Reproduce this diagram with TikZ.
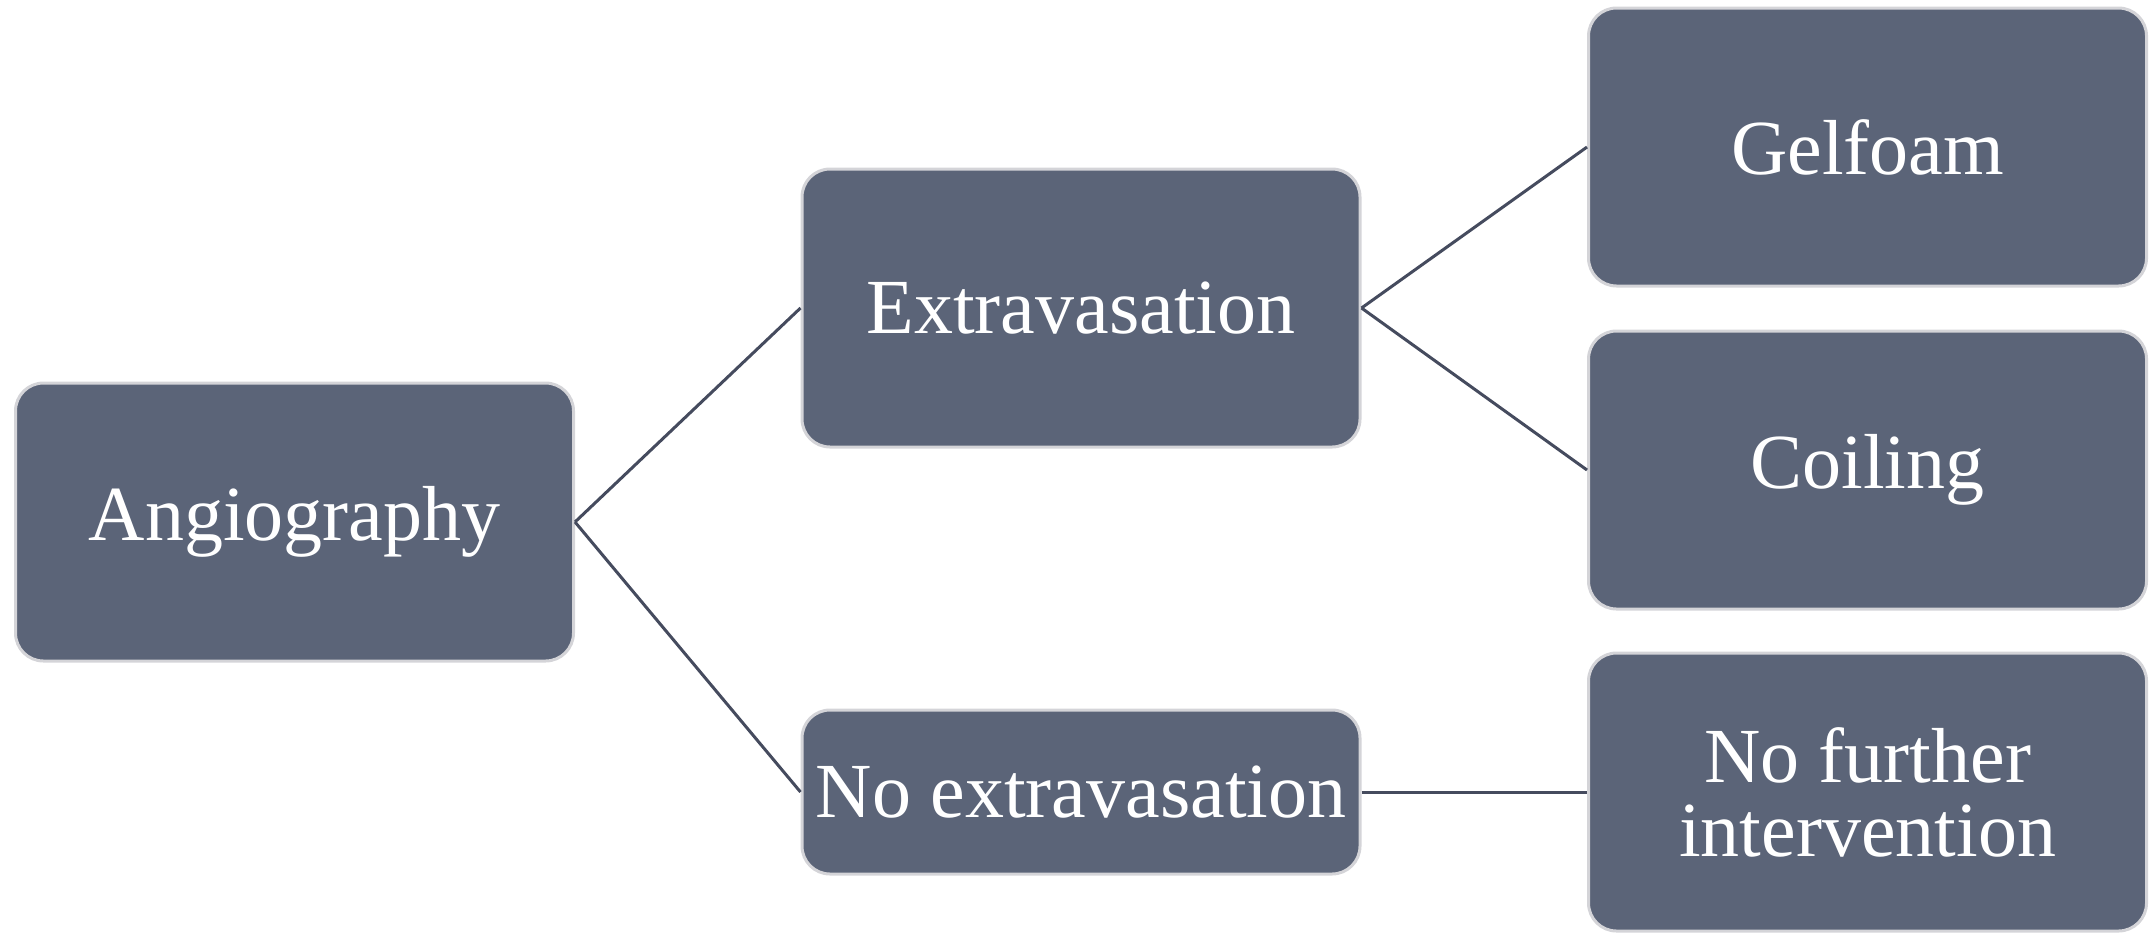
\documentclass[tikz,border=0pt]{standalone}
\usepackage{fontspec}
\setmainfont{Liberation Serif}
\usepackage{tikz}
\usetikzlibrary{positioning}
\definecolor{boxslate}{HTML}{5B6478}
\definecolor{boxrim}{HTML}{D4D4D8}
\definecolor{linkslate}{HTML}{454B5E}

\tikzset{
  flowbox/.style={draw=boxrim,line width=1.5pt,fill=boxslate,rounded corners=14pt,
    text=white,align=center,font=\fontsize{39}{37}\selectfont,
    minimum width=279pt,minimum height=139pt,inner sep=0pt},
  link/.style={draw=linkslate,line width=1.5pt}
}

\begin{document}
\begin{tikzpicture}[x=0.5pt,y=-0.5pt]
\useasboundingbox (0,0) rectangle (2155,933);
% boxes
\node[flowbox] (angio) at (294.5,522) {Angiography};
\node[flowbox] (extrav) at (1081,308) {Extravasation};
\node[flowbox,minimum height=82pt] (noextrav) at (1081,792) {No extravasation};
\node[flowbox] (gelfoam) at (1867.5,147) {Gelfoam};
\node[flowbox] (coiling) at (1867.5,470) {Coiling};
\node[flowbox] (nofurther) at (1867.5,792) {No further\\intervention};
% links
\draw[link] (angio.east) -- (extrav.west);
\draw[link] (angio.east) -- (noextrav.west);
\draw[link] (extrav.east) -- (gelfoam.west);
\draw[link] (extrav.east) -- (coiling.west);
\draw[link] (noextrav.east) -- (nofurther.west);
\end{tikzpicture}
\end{document}
